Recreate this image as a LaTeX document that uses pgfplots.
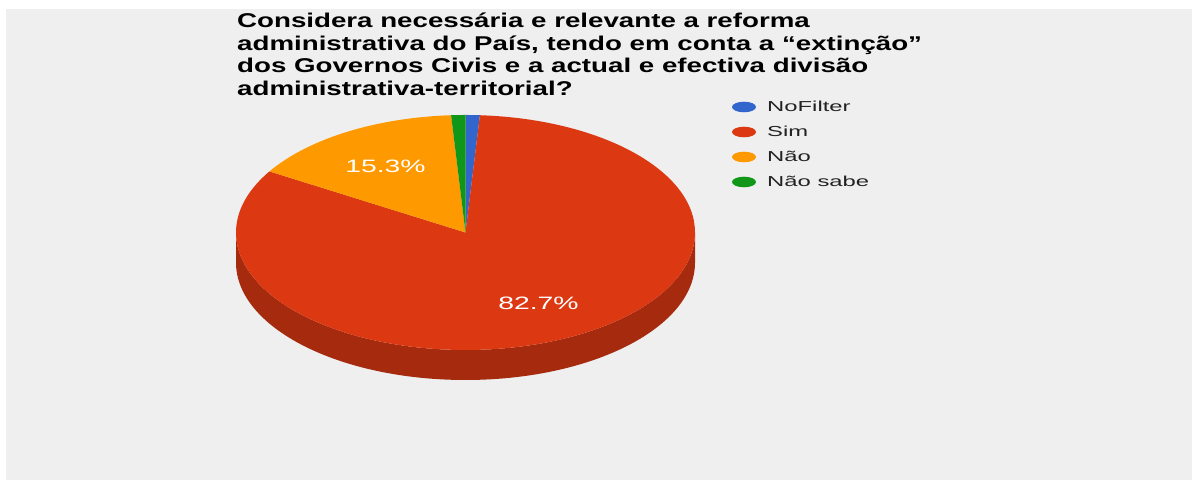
\documentclass[border=0pt]{standalone}
\usepackage{pgfplots}
\usepackage{pgfplotstable}
\pgfplotsset{compat=1.18}
\usepackage{fontspec}
\setmainfont{Liberation Sans}
\newfontfamily\titlefont[FakeStretch=1.39]{Liberation Sans}
\newfontfamily\legfont[FakeStretch=1.65]{Liberation Sans}
\newfontfamily\labfont[FakeStretch=1.58]{Liberation Sans}

\definecolor{bg}{HTML}{EFEFEF}
\definecolor{gBlue}{HTML}{3366CC}
\definecolor{gRed}{HTML}{DC3912}
\definecolor{gRedDark}{HTML}{A52A0E}
\definecolor{gOrange}{HTML}{FF9900}
\definecolor{gGreen}{HTML}{109618}
\definecolor{legtext}{HTML}{222222}

% shares of the answers, clockwise from 12 o'clock
\pgfplotstableread[col sep=comma]{
label,value
NoFilter,1.0
Sim,82.7
Não,15.3
Não sabe,1.0
}\piedata

\begin{document}
\begin{tikzpicture}
% start / end angles of each wedge (clockwise from the top)
\pgfplotstablegetelem{0}{value}\of\piedata \let\vA\pgfplotsretval
\pgfplotstablegetelem{1}{value}\of\piedata \let\vB\pgfplotsretval
\pgfplotstablegetelem{2}{value}\of\piedata \let\vC\pgfplotsretval
\pgfplotstablegetelem{3}{value}\of\piedata \let\vD\pgfplotsretval
\pgfmathsetmacro\aA{90}
\pgfmathsetmacro\aB{\aA-3.6*\vA}
\pgfmathsetmacro\aC{\aB-3.6*\vB}
\pgfmathsetmacro\aD{\aC-3.6*\vC}
\pgfmathsetmacro\aE{\aD-3.6*\vD}
\begin{axis}[
  width=1193bp, height=480bp, scale only axis,
  xmin=0, xmax=1193, ymin=0, ymax=480,
  hide axis, clip=false,
]
\fill[white] (axis cs:0,0) rectangle (axis cs:1193,480);
\fill[bg] (axis cs:6,0) rectangle (axis cs:1192,471);

% side of the 3d pie
\fill[gRedDark] (axis cs:236,247.5) -- (axis cs:236,217.5)
  arc[start angle=180, end angle=360, x radius=229.5bp, y radius=117.5bp]
  -- (axis cs:695,247.5)
  arc[start angle=0, end angle=-180, x radius=229.5bp, y radius=117.5bp] -- cycle;

% top face
\fill[gBlue] (axis cs:465.5,247.5) -- ([shift={(\aA:229.5bp and 117.5bp)}]axis cs:465.5,247.5)
  arc[start angle=\aA, end angle=\aB, x radius=229.5bp, y radius=117.5bp] -- cycle;
\fill[gRed] (axis cs:465.5,247.5) -- ([shift={(\aB:229.5bp and 117.5bp)}]axis cs:465.5,247.5)
  arc[start angle=\aB, end angle=\aC, x radius=229.5bp, y radius=117.5bp] -- cycle;
\fill[gOrange] (axis cs:465.5,247.5) -- ([shift={(\aC:229.5bp and 117.5bp)}]axis cs:465.5,247.5)
  arc[start angle=\aC, end angle=\aD, x radius=229.5bp, y radius=117.5bp] -- cycle;
\fill[gGreen] (axis cs:465.5,247.5) -- ([shift={(\aD:229.5bp and 117.5bp)}]axis cs:465.5,247.5)
  arc[start angle=\aD, end angle=\aE, x radius=229.5bp, y radius=117.5bp] -- cycle;

% slice labels
\node[white, inner sep=0, font=\labfont\fontsize{18}{20}\selectfont] at (axis cs:385.5,314) {15.3\%};
\node[white, inner sep=0, font=\labfont\fontsize{18}{20}\selectfont] at (axis cs:538.5,176.5) {82.7\%};

% title
\begin{scope}[every node/.style={anchor=base west, inner sep=0, font=\titlefont\bfseries\fontsize{20}{22}\selectfont}]
\node at (axis cs:237,452.5) {Considera necessária e relevante a reforma};
\node at (axis cs:237,429.8) {administrativa do País, tendo em conta a “extinção”};
\node at (axis cs:237,407.1) {dos Governos Civis e a actual e efectiva divisão};
\node at (axis cs:237,384.4) {administrativa-territorial?};
\end{scope}

% legend
\begin{scope}[every node/.style={anchor=base west, inner sep=0, text=legtext, font=\legfont\fontsize{14.5}{16}\selectfont}]
\fill[gBlue] (axis cs:744,373) ellipse[x radius=12bp, y radius=5.3bp];
\node at (axis cs:767,368) {NoFilter};
\fill[gRed] (axis cs:744,348) ellipse[x radius=12bp, y radius=5.3bp];
\node at (axis cs:767,343) {Sim};
\fill[gOrange] (axis cs:744,323) ellipse[x radius=12bp, y radius=5.3bp];
\node at (axis cs:767,318) {Não};
\fill[gGreen] (axis cs:744,298) ellipse[x radius=12bp, y radius=5.3bp];
\node at (axis cs:767,293) {Não sabe};
\end{scope}
\end{axis}
\end{tikzpicture}
\end{document}
